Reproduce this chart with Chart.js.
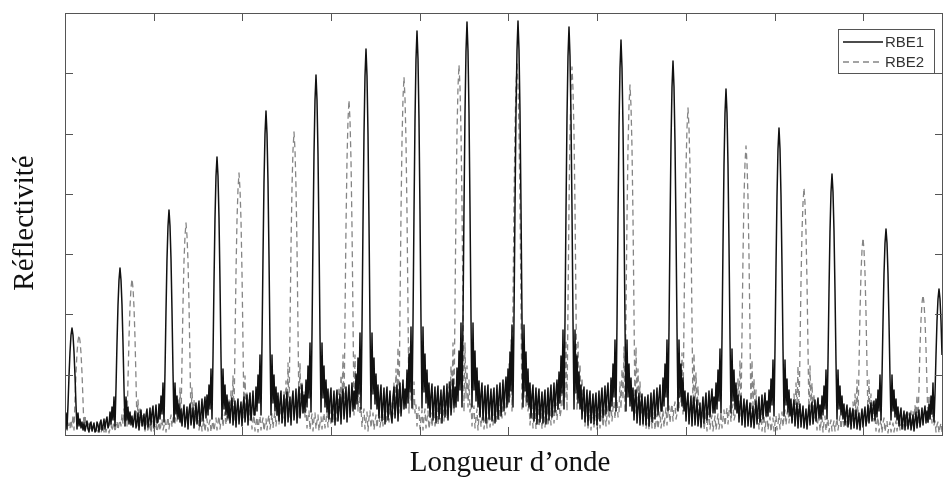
<!DOCTYPE html>
<html>
<head>
<meta charset="utf-8">
<script src="https://cdn.jsdelivr.net/npm/chart.js@4.4.1/dist/chart.umd.min.js"></script>
<style>
  html, body { margin: 0; padding: 0; background: #fff; }
  canvas { display: block; }
</style>
</head>
<body>
<canvas id="myChart" width="944" height="477"></canvas>
<script>
// x: longueur d'onde (unites arbitraires, 0..878), y: reflectivite (unites arbitraires, 0..422)
var xMax = 878;
var yMax = 422;
var xTickStep = 88.7;
var yTickStep = 60.3;

var seriesNames = ['RBE1', 'RBE2'];

// RBE1 : position des maxima, puis echantillons (1 par unite) avant et a partir de chaque maximum
var rbe1Peaks = [7, 55, 104, 152, 201, 251, 301, 352, 402, 453, 504, 556, 608, 661, 714, 767, 821, 874];
var rbe1Before = [
  [12,22,6,30,59,83,100],
  [4,13,10,3,12,15,5,9,16,6,14,18,7, 10,23,11,28,15,38,9,47,92,130,155],
  [6,20,26,8,15,27,10,22,29,7,18,30,12, 13,31,16,39,21,52,13,63,124,176,209],
  [27,7,20,32,11,24,34,9,21,36,14,28,38, 17,40,20,50,26,66,16,78,153,217,259],
  [9,29,38,13,25,40,10,31,42,15,27,44,20, 20,48,24,60,32,80,20,91,178,253,301],
  [10,34,44,15,28,46,12,35,48,17,30,50,22,40, 23,55,28,69,37,92,23,101,198,281,335],
  [11,36,46,16,30,48,13,37,50,18,33,52,24,44, 26,61,31,77,41,102,26,108,212,301,359],
  [12,38,48,17,32,50,14,39,52,19,35,55,26,46, 27,65,32,81,43,108,27,113,222,315,376],
  [12,38,49,18,33,51,15,40,53,20,36,56,27,48, 28,67,34,84,45,112,28,116,227,322,384],
  [36,47,12,30,50,16,39,52,19,35,55,24,45,58, 28,66,33,83,44,110,28,116,228,323,385],
  [33,45,11,29,47,15,37,50,18,34,52,23,43,55, 26,63,32,79,42,105,26,114,224,318,379],
  [31,42,10,27,44,14,35,47,17,32,49,21,40,52,25, 24,57,29,71,38,95,24,111,217,308,367],
  [29,40,9,25,42,13,33,45,16,30,47,20,38,50,24, 24,57,29,71,38,95,24,105,206,292,348],
  [32,8,24,38,12,30,42,15,27,44,18,35,46,22,38, 22,52,26,65,34,86,22,97,190,270,322],
  [29,7,22,34,11,27,38,13,24,40,16,31,42,19,34, 19,45,23,56,30,75,19,86,169,239,286],
  [26,6,20,30,10,24,33,11,22,35,14,28,37,17,30, 16,39,20,49,26,65,16,73,144,204,243],
  [22,5,17,26,8,20,28,9,18,30,12,24,32,14,27,34, 15,36,18,45,24,60,15,58,113,161,192],
  [20,4,15,23,7,18,25,8,16,27,10,22,29,12,24, 13,31,16,39,21,52,13,41,80,114,136]
];
var rbe1After = [
  [107,100,83,59,30,6,22,9,16,7,13,5, 12,4,9,14,6,3,11,13,4,8,12,3],
  [167,155,130,92,47,9,38,15,28,11,23,10, 19,8,16,24,7,13,22,5,18,25,9,14,21],
  [225,209,176,124,63,13,52,21,39,16,31,13, 26,9,22,30,8,17,28,6,24,31,10,19],
  [278,259,217,153,78,16,66,26,50,20,40,17, 33,12,28,37,10,22,34,8,27,36,11,24,33],
  [324,301,253,178,91,20,80,32,60,24,48,20, 42,14,33,44,12,27,40,9,31,43,13,26,38],
  [360,335,281,198,101,23,92,37,69,28,55,23, 46,16,36,47,13,29,44,10,33,45,14,28,41],
  [386,359,301,212,108,26,102,41,77,31,61,26, 50,17,38,50,14,31,47,11,36,48,15,30,44,20],
  [404,376,315,222,113,27,108,43,81,32,65,27, 52,18,40,51,15,32,48,12,37,49,16,31,45],
  [413,384,322,227,116,28,112,45,84,34,67,28, 54,18,41,52,15,33,49,12,38,50,16,32,46,14],
  [414,385,323,228,116,28,110,44,83,33,66,28, 52,17,40,50,14,31,47,11,36,46,13,30,43,12],
  [408,379,318,224,114,26,105,42,79,32,63,26, 50,16,38,48,13,30,45,10,34,44,12,28,41,11],
  [395,367,308,217,111,24,95,38,71,29,57,24, 47,15,36,45,12,28,42,10,32,41,11,26,38,10],
  [374,348,292,206,105,24,95,38,71,29,57,24, 44,14,33,42,11,26,39,9,30,38,10,24,35,9,20],
  [346,322,270,190,97,22,86,34,65,26,52,22, 40,13,30,39,10,24,36,8,28,35,9,22,32,8,18],
  [307,286,239,169,86,19,75,30,56,23,45,19, 36,12,27,35,9,22,32,7,25,31,8,20,29,7,16],
  [261,243,204,144,73,16,65,26,49,20,39,16, 31,10,23,30,8,19,27,6,21,26,7,17,25,6,14],
  [206,192,161,113,58,15,60,24,45,18,36,15, 28,9,20,27,6,16,24,5,19,23,6,14,22,5,12],
  [146,136,114,80]
];

// RBE2
var rbe2Peaks = [14, 67, 121, 174, 229, 284, 339, 394, 452, 507, 565, 623, 681, 739, 798, 858];
var rbe2Before = [
  [8,14,5, 5,12,6,15,8,20,5,35,62,82,94],
  [3,8,12,2,6,11,4,9,13,3,10,14,5,11,15, 9,21,11,26,14,35,9,55,97,128,147],
  [13,4,11,16,5,9,15,3,12,18,6,14,20,8,16,22, 12,28,14,35,19,47,12,74,131,174,199],
  [14,4,11,17,5,13,19,6,15,21,8,18,23,10,20, 15,35,18,44,24,59,15,92,162,215,246],
  [5,15,20,6,13,21,7,17,23,9,19,25,11,22,27,13, 18,43,22,54,29,72,18,106,188,248,285],
  [6,16,22,7,14,23,8,18,25,10,21,27,12,24,30,14, 20,48,24,60,32,80,20,117,208,275,315],
  [7,17,24,8,15,25,9,19,27,11,23,29,13,26,32,15, 22,53,26,66,35,88,22,125,222,294,337],
  [8,18,26,9,16,27,10,20,29,12,24,31,14,28,34,16, 23,55,28,69,37,92,23,130,229,303,348],
  [18,26,8,17,28,10,21,30,12,25,32,15,29,35,17,31,38,20, 24,57,29,71,38,95,24,130,231,305,350],
  [8,19,27,9,17,28,10,21,30,12,25,32,15,29,36,18, 24,57,29,71,38,95,24,129,228,302,346],
  [17,25,8,16,27,9,20,29,11,24,31,14,27,33,16,30,36,18, 22,53,26,66,35,88,22,123,217,287,329],
  [15,23,7,14,25,8,18,27,10,22,29,12,25,31,14,28,33,16, 21,49,25,62,33,82,21,114,203,268,307],
  [13,21,6,12,23,7,16,25,9,20,27,11,23,29,13,26,31,15, 19,45,23,56,30,75,19,101,179,237,272],
  [12,19,5,11,21,6,15,23,8,18,25,10,21,27,12,24,29,14, 17,41,21,52,28,69,17,86,153,203,232],
  [14,4,10,17,5,12,19,6,14,21,8,16,23,9,19,25,11,21, 14,33,17,41,22,55,14,69,122,162,185],
  [12,3,9,14,4,11,16,5,12,18,6,14,20,7,16,22,9,18,24, 10,24,12,30,16,40,10,49,87,115,132]
];
var rbe2After = [
  [100,94,82,62,35,5,20,8,15,6,12,5, 9,3,7,11,2,5,10,3,8,11,2,6,10,3,7],
  [156,147,128,97,55,9,35,14,26,11,21,9, 13,4,10,15,3,8,13,2,11,14,4,9,12,3,8],
  [212,199,174,131,74,12,47,19,35,14,28,12, 18,5,13,17,4,10,15,3,12,16,4,11,15,3,9],
  [262,246,215,162,92,15,59,24,44,18,35,15, 22,6,15,20,4,12,18,3,14,19,5,12,17,4,11,16],
  [303,285,248,188,106,18,72,29,54,22,43,18, 26,7,18,24,5,14,21,4,16,22,6,14,20,4,12,18],
  [335,315,275,208,117,20,80,32,60,24,48,20, 28,8,20,26,6,15,23,4,17,24,7,15,22,5,13,20],
  [358,337,294,222,125,22,88,35,66,26,53,22, 30,9,22,28,6,16,25,5,18,26,7,16,24,6,14,22],
  [370,348,303,229,130,23,92,37,69,28,55,23, 31,9,23,29,7,17,26,5,19,27,8,17,25,6,15,23,7],
  [372,350,305,231,130,24,95,38,71,29,57,24, 32,10,24,30,7,18,27,6,20,28,8,18,26,6,16,24],
  [368,346,302,228,129,24,95,38,71,29,57,24, 31,9,23,29,7,17,26,5,19,27,8,17,25,6,15,23,7],
  [350,329,287,217,123,22,88,35,66,26,53,22, 29,8,21,27,6,15,24,5,17,25,7,15,22,5,13,21,6],
  [327,307,268,203,114,21,82,33,62,25,49,21, 27,7,19,25,5,14,22,4,16,23,6,14,20,4,12,19,5],
  [289,272,237,179,101,19,75,30,56,23,45,19, 25,6,17,23,4,13,20,3,15,21,5,13,18,3,11,17,4],
  [247,232,203,153,86,17,69,28,52,21,41,17, 22,5,15,21,4,12,18,3,13,19,4,11,16,3,10,15,4,9],
  [197,185,162,122,69,14,55,22,41,17,33,14, 19,4,13,18,3,10,16,2,12,17,3,10,14,2,9,13,3,8],
  [140,132,115,87,49,10,40,16,30,12,24,10, 14,3,10,13,2,8,12,3]
];

// assemble {x, y} points: samples before a maximum end just left of it
function assemble(peaks, before, after) {
  var pts = [];
  peaks.forEach(function (c, k) {
    before[k].forEach(function (v, j) {
      pts.push({ x: c - before[k].length + j, y: v });
    });
    after[k].forEach(function (v, j) {
      pts.push({ x: c + j, y: v });
    });
  });
  return pts.sort(function (a, b) { return a.x - b.x; });
}

var frameColor = '#555555';

var matlabFrame = {
  id: 'matlabFrame',
  afterDraw: function (chart) {
    var ctx = chart.ctx;
    var a = chart.chartArea;
    var xs = chart.scales.x, ys = chart.scales.y;
    ctx.save();
    ctx.strokeStyle = frameColor;
    ctx.lineWidth = 1;
    ctx.strokeRect(Math.round(a.left) + 0.5, Math.round(a.top) + 0.5,
                   Math.round(a.right - a.left) - 1, Math.round(a.bottom - a.top));
    ctx.beginPath();
    for (var k = 1; k * xTickStep < xMax; k++) {
      var px = Math.round(xs.getPixelForValue(k * xTickStep)) + 0.5;
      ctx.moveTo(px, a.top); ctx.lineTo(px, a.top + 8);
      ctx.moveTo(px, a.bottom); ctx.lineTo(px, a.bottom - 8);
    }
    for (var m = 1; m * yTickStep < yMax - 1; m++) {
      var py = Math.round(ys.getPixelForValue(m * yTickStep)) + 0.5;
      ctx.moveTo(a.left, py); ctx.lineTo(a.left + 8, py);
      ctx.moveTo(a.right, py); ctx.lineTo(a.right - 8, py);
    }
    ctx.stroke();

    // axis titles
    ctx.fillStyle = '#111';
    ctx.font = '29px "Liberation Serif", "Times New Roman", serif';
    ctx.textAlign = 'center';
    ctx.textBaseline = 'alphabetic';
    ctx.fillText('Longueur d\u2019onde', 510, 471);
    ctx.save();
    ctx.translate(33, 223);
    ctx.rotate(-Math.PI / 2);
    ctx.fillText('Réflectivité', 0, 0);
    ctx.restore();

    // legend box
    var bx = 838, by = 29, bw = 96, bh = 44;
    ctx.fillStyle = '#fff';
    ctx.fillRect(bx, by, bw, bh);
    ctx.strokeStyle = '#555';
    ctx.lineWidth = 1;
    ctx.strokeRect(bx + 0.5, by + 0.5, bw, bh);
    ctx.font = '15px "Liberation Sans", Arial, sans-serif';
    ctx.textAlign = 'left';
    ctx.textBaseline = 'middle';
    chart.data.datasets.forEach(function (ds, i) {
      var ly = by + 13 + i * 20;
      ctx.beginPath();
      ctx.setLineDash(ds.borderDash || []);
      ctx.strokeStyle = ds.borderColor;
      ctx.lineWidth = 1.3;
      ctx.moveTo(bx + 5, ly);
      ctx.lineTo(bx + 45, ly);
      ctx.stroke();
      ctx.setLineDash([]);
      ctx.fillStyle = '#333';
      ctx.fillText(ds.label, bx + 47, ly + 1);
    });
    ctx.restore();
  }
};

var ctx = document.getElementById('myChart').getContext('2d');

var config = {
  type: 'line',
  data: {
    datasets: [{
      label: seriesNames[0],
      data: assemble(rbe1Peaks, rbe1Before, rbe1After),
      borderColor: '#111111',
      borderWidth: 1.5,
      pointRadius: 0,
      tension: 0,
      borderJoinStyle: 'round'
    }, {
      label: seriesNames[1],
      data: assemble(rbe2Peaks, rbe2Before, rbe2After),
      borderColor: '#858585',
      borderWidth: 1.3,
      borderDash: [6, 4],
      pointRadius: 0,
      tension: 0,
      borderJoinStyle: 'round'
    }]
  },
  options: {
    responsive: false,
    animation: false,
    devicePixelRatio: 1,
    layout: { padding: { left: 65, top: 13, right: 1, bottom: 42 } },
    scales: {
      x: { type: 'linear', min: 0, max: xMax, display: false },
      y: { type: 'linear', min: 0, max: yMax, display: false }
    },
    plugins: {
      legend: { display: false },
      tooltip: { enabled: false }
    }
  },
  plugins: [matlabFrame]
};

window.myReflect = new Chart(ctx, config);
</script>
</body>
</html>
